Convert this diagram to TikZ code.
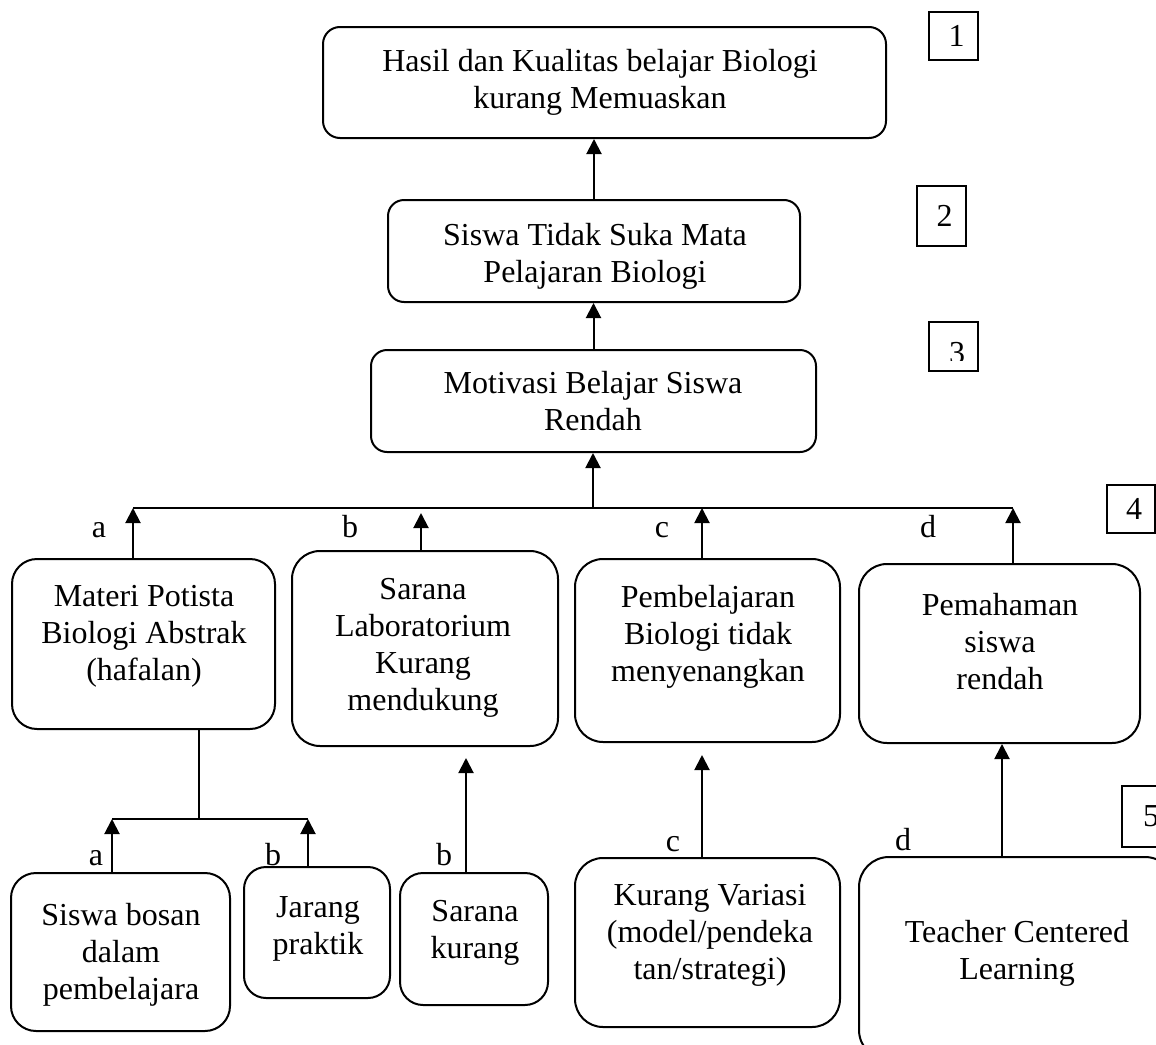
\documentclass[tikz,border=0pt]{standalone}
\usepackage{fontspec}
\setmainfont{Liberation Serif}
\usetikzlibrary{arrows.meta}
\begin{document}
\begin{tikzpicture}[x=0.5pt,y=-0.5pt,
  rb/.style={draw, line width=1pt, inner sep=0pt},
  tx/.style={align=center, inner sep=0pt, font=\fontsize{16}{18.5}\selectfont},
  lab/.style={anchor=base, inner sep=0pt, font=\fontsize{16}{18.5}\selectfont},
  numb/.style={draw, line width=0.8pt, inner sep=0pt, font=\fontsize{16}{18.5}\selectfont},
  arr/.style={line width=1pt, -{Triangle[length=7.5pt,width=7.5pt]}},
  ln/.style={line width=1pt}]
\useasboundingbox (0,0) rectangle (1156,1044);
\clip (0,0) rectangle (1156,1044);

% boxes
\node[rb, rounded corners=8.5pt, minimum width=281.5pt, minimum height=55.5pt] (B1) at (604.5,82.5) {};
\node[rb, rounded corners=8pt, minimum width=206pt, minimum height=51pt] (B2) at (594,251) {};
\node[rb, rounded corners=8pt, minimum width=222.5pt, minimum height=51pt] (B3) at (593.5,401) {};
\node[rb, rounded corners=12.5pt, minimum width=131.5pt, minimum height=85pt] (Ba) at (143.5,644) {};
\node[rb, rounded corners=14pt, minimum width=133pt, minimum height=97.5pt] (Bb) at (425,648.5) {};
\node[rb, rounded corners=14pt, minimum width=132.5pt, minimum height=91.5pt] (Bc) at (707.5,650.5) {};
\node[rb, rounded corners=14pt, minimum width=140.5pt, minimum height=89.5pt] (Bd) at (999.5,653.5) {};
\node[rb, rounded corners=12.5pt, minimum width=109.5pt, minimum height=79pt] (Bsa) at (120.5,952) {};
\node[rb, rounded corners=11pt, minimum width=73pt, minimum height=65.5pt] (Bj) at (317,932.5) {};
\node[rb, rounded corners=11.5pt, minimum width=74pt, minimum height=66pt] (Bsk) at (474,939) {};
\node[rb, rounded corners=14pt, minimum width=132.5pt, minimum height=84.5pt] (Bkv) at (707.5,942.5) {};
\node[rb, rounded corners=15pt, minimum width=158pt, minimum height=101.5pt] (Btcl) at (1017,958.5) {};

% texts
\node[tx] (T1) at (600,82) {Hasil dan Kualitas belajar Biologi\\kurang Memuaskan};
\node[tx] (T2) at (595,256) {Siswa Tidak Suka Mata\\Pelajaran Biologi};
\node[tx] (T3) at (593,401) {Motivasi Belajar Siswa\\Rendah};
\node[tx] (Ta) at (144,636) {Materi Potista\\Biologi Abstrak\\(hafalan)};
\node[tx] (Tb) at (423,648) {Sarana\\Laboratorium\\Kurang\\mendukung};
\node[tx] (Tc) at (708,637) {Pembelajaran\\Biologi tidak\\menyenangkan};
\node[tx] (Td) at (1000,642) {Pemahaman\\siswa\\rendah};
\node[tx] (Tsa) at (121,955) {Siswa bosan\\dalam\\pembelajara};
\node[tx] (Tj) at (318,929) {Jarang\\praktik};
\node[tx] (Tsk) at (475,933) {Sarana\\kurang};
\node[tx] (Tkv) at (710,935) {Kurang Variasi\\(model/pendeka\\tan/strategi)};
\node[tx] (Ttcl) at (1017,953) {Teacher Centered\\Learning};

% letter labels
\node[lab] (la1) at (99,537) {a};
\node[lab] (lb1) at (350,537) {b};
\node[lab] (lc1) at (662,537) {c};
\node[lab] (ld1) at (928,537) {d};
\node[lab] (la2) at (96,865) {a};
\node[lab] (lb2) at (273,865) {b};
\node[lab] (lb3) at (444,865) {b};
\node[lab] (lc2) at (673,851) {c};
\node[lab] (ld2) at (903,850) {d};

% number boxes
\node[numb, minimum width=24.5pt, minimum height=24pt] (N1) at (953.5,36) {\hspace{3pt}1};
\node[numb, minimum width=24.5pt, minimum height=30pt] (N2) at (941.5,216) {\hspace{3pt}2};
\node[numb, minimum width=24.5pt, minimum height=24.5pt] (N3) at (953.5,346.5) {};
\begin{scope}
\clip (N3.north west) rectangle (970,360);
\node[lab] (n3) at (957,363) {3};
\end{scope}
\node[numb, minimum width=24pt, minimum height=24pt] (N4) at (1131,509) {\hspace{3pt}4};
\node[numb, minimum width=29pt, minimum height=30.5pt] (N5) at (1151,816.5) {5};

% connectors top
\draw[arr] (B2.north) -- (B2.north |- B1.south);
\draw[arr] (B3.north) -- (B3.north |- B2.south);

\coordinate (ja) at (133,508);
\coordinate (jb) at (421,513);
\coordinate (jc) at (702,508);
\coordinate (jd) at (1013,508);
\coordinate (jm) at (593,508);
\draw[ln] (ja) -- (jd);
\draw[arr] (jm) -- (jm |- B3.south);
\draw[arr] (Ba.north -| ja) -- (ja);
\draw[arr] (Bb.north -| jb) -- (jb);
\draw[arr] (Bc.north -| jc) -- (jc);
\draw[arr] (Bd.north -| jd) -- (jd);

% lower level
\coordinate (m1) at (199,819);
\coordinate (s1) at (112,819);
\coordinate (s2) at (308,819);
\draw[ln] (Ba.south -| m1) -- (m1);
\draw[ln] (s1) -- (s2);
\draw[arr] (Bsa.north -| s1) -- (s1);
\draw[arr] (Bj.north -| s2) -- (s2);

\coordinate (t1) at (466,758);
\coordinate (t2) at (702,755);
\coordinate (t3) at (1002,744);
\draw[arr] (Bsk.north -| t1) -- (t1);
\draw[arr] (Bkv.north -| t2) -- (t2);
\draw[arr] (Btcl.north -| t3) -- (t3 |- Bd.south);
\end{tikzpicture}
\end{document}
